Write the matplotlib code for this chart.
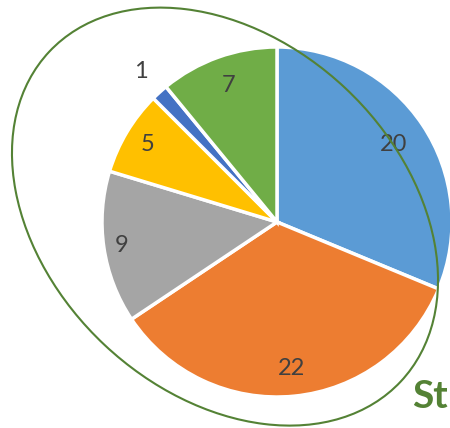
import matplotlib
matplotlib.use("Agg")
import matplotlib.pyplot as plt
from matplotlib.patches import Ellipse
import numpy as np

# Data
values = [20, 22, 9, 5, 1, 7]
labels = ["20", "22", "9", "5", "1", "7"]
colors = ["#5B9BD5", "#ED7D31", "#A5A5A5", "#FFC000", "#4472C4", "#70AD47"]

# Style: radial label placement (fraction of radius)
label_dist = [0.80, 0.84, 0.90, 0.86, 1.16, 0.83]

W, H = 450, 428
fig = plt.figure(figsize=(W / 100, H / 100), dpi=100)
ax = fig.add_axes([0, 0, 1, 1])
ax.set_xlim(0, W)
ax.set_ylim(0, H)
ax.axis("off")

cx, cy, R = 277, H - 222, 175
wedges, _ = ax.pie(values, colors=colors, startangle=90, counterclock=False,
                   center=(cx, cy), radius=R, frame=True,
                   wedgeprops=dict(edgecolor="white", linewidth=2.5))
ax.set_xlim(0, W)
ax.set_ylim(0, H)
ax.axis("off")

for w, lab, d in zip(wedges, labels, label_dist):
    mid = np.deg2rad((w.theta1 + w.theta2) / 2)
    ax.text(cx + d * R * np.cos(mid), cy + d * R * np.sin(mid), lab,
            ha="center", va="center", fontsize=17, color="#404040",
            family="Lato", zorder=5)

ell = Ellipse((225, H - 216.6), width=482, height=352, angle=-43.2,
              fill=False, edgecolor="#548235", linewidth=1.5, zorder=6)
ax.add_patch(ell)

ax.text(412, H - 408, "St", ha="left", va="baseline", fontsize=28,
        fontweight="bold", color="#548235", family="Lato", zorder=7)

fig.savefig("out.png", dpi=100)
